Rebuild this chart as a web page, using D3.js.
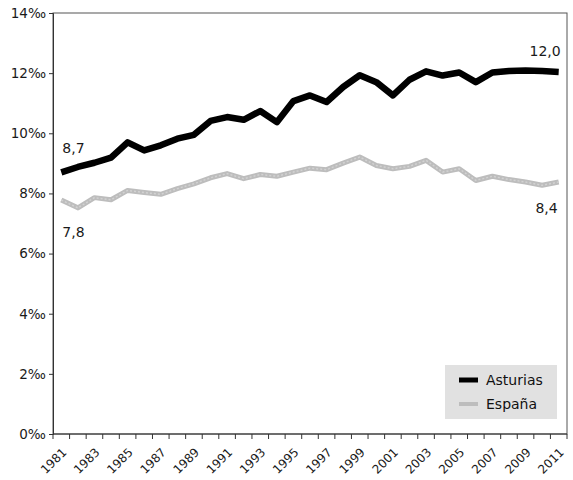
<!DOCTYPE html>
<html><head><meta charset="utf-8">
<script src="https://cdn.jsdelivr.net/npm/d3@7"></script>
<style>
body{margin:0;background:#fff;}
svg{display:block;font-family:"DejaVu Sans",Verdana,sans-serif;}
</style></head>
<body><svg id="c" width="573" height="480"></svg>
<script>
const years = d3.range(1981, 2012);
const asturias = [8.7,8.88,9.02,9.19,9.7,9.43,9.6,9.82,9.95,10.41,10.54,10.45,10.74,10.37,11.07,11.26,11.04,11.54,11.93,11.7,11.26,11.78,12.06,11.92,12.02,11.7,12.02,12.07,12.09,12.07,12.04];
const espana = [7.78,7.52,7.86,7.79,8.1,8.03,7.97,8.16,8.32,8.52,8.66,8.49,8.63,8.57,8.71,8.84,8.79,9.01,9.21,8.93,8.82,8.9,9.1,8.71,8.82,8.43,8.57,8.46,8.38,8.27,8.38];
const yTicks = [0,2,4,6,8,10,12,14];
const seriesNames = ["Asturias","España"];

const svg = d3.select("#c");
const L=53, R=567, T=13, B=434;
const x = d3.scaleBand().domain(years).range([L,R]).padding(0);
const y = d3.scaleLinear().domain([0,14]).range([B,T]);
const cx = d => x(d)+x.bandwidth()/2;

// frame
svg.append("rect").attr("x",L).attr("y",T).attr("width",R-L).attr("height",B-T)
  .attr("fill","none").attr("stroke","#555").attr("stroke-width",1);

// y axis
const ya = svg.append("g").attr("transform",`translate(${L},0)`)
  .call(d3.axisLeft(y).tickValues(yTicks).tickSize(4).tickPadding(3).tickFormat(d=>d+"‰"));
ya.select(".domain").attr("stroke","#333");
ya.selectAll(".tick line").attr("stroke","#333");
ya.selectAll("text").attr("font-size",13.5).attr("fill","#1a1a1a").attr("font-family","DejaVu Sans");

// x axis: ticks on category boundaries
const xa = svg.append("g").attr("transform",`translate(0,${B})`);
xa.append("line").attr("x1",L).attr("x2",R).attr("stroke","#333");
xa.selectAll("line.t").data(years.concat([2012])).join("line").attr("class","t")
  .attr("x1",d=>d===2012?R:x(d)).attr("x2",d=>d===2012?R:x(d)).attr("y1",0).attr("y2",5).attr("stroke","#333");
xa.selectAll("text").data(years.filter(d=>(d-1981)%2===0)).join("text")
  .attr("transform",d=>`translate(${cx(d)+6},${19}) rotate(-45)`)
  .attr("text-anchor","end").attr("font-size",12).attr("fill","#1a1a1a").text(d=>d);

// lines
const line = vals => d3.line().x((d,i)=>cx(years[i])).y(d=>y(d))(vals);
svg.append("path").attr("d",line(espana)).attr("fill","none")
  .attr("stroke","#bdbdbd").attr("stroke-width",5).attr("stroke-linejoin","round");
svg.append("path").attr("d",line(espana)).attr("fill","none")
  .attr("stroke","#d2d2d2").attr("stroke-width",1.5).attr("stroke-dasharray","2,2");
svg.append("path").attr("d",line(asturias)).attr("fill","none")
  .attr("stroke","#000").attr("stroke-width",6.5).attr("stroke-linejoin","round");

// data labels
const lab = (t,xx,yy,anchor)=>svg.append("text").attr("x",xx).attr("y",yy).attr("text-anchor",anchor)
  .attr("font-size",14).attr("fill","#1a1a1a").text(t);
lab("8,7", cx(1981)+1, y(asturias[0])-19, "start");
lab("7,8", cx(1981)+1, y(espana[0])+37, "start");
lab("12,0", cx(2011)+2, y(asturias[30])-16, "end");
lab("8,4", cx(2011)-1, y(espana[30])+31, "end");

// legend
const lg = svg.append("g").attr("transform","translate(445,365)");
lg.append("rect").attr("width",112).attr("height",54).attr("fill","#e1e1e1");
const colors = ["#000","#bdbdbd"];
seriesNames.forEach((n,i)=>{
  lg.append("line").attr("x1",14).attr("x2",33).attr("y1",15+i*24).attr("y2",15+i*24)
    .attr("stroke",colors[i]).attr("stroke-width",i?4:5);
  lg.append("text").attr("x",41).attr("y",20+i*24).attr("font-size",14).attr("fill","#111").text(n);
});
</script></body></html>
